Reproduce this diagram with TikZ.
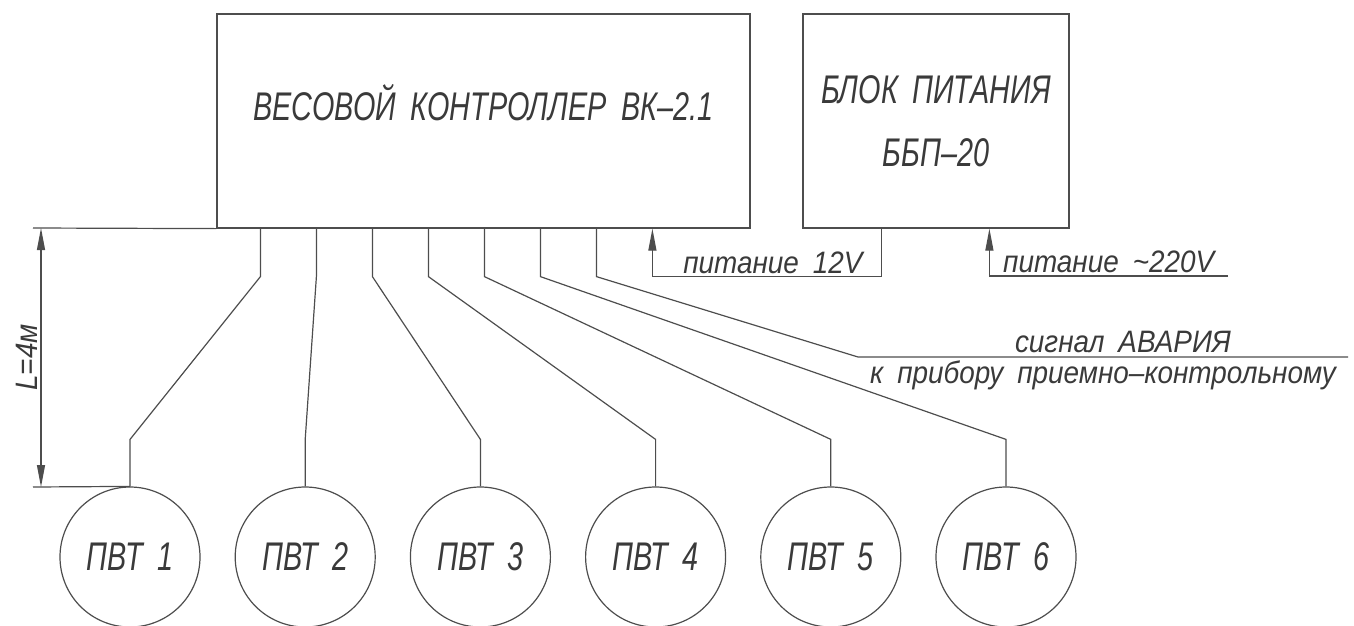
\documentclass[tikz,border=0pt]{standalone}
\usepackage{fontspec}
\usepackage{tikz}
\usetikzlibrary{positioning, arrows.meta, calc}

\newfontfamily\cadcaps{Liberation Sans}[FakeStretch=0.72, WordSpace=1.8]
\newfontfamily\cadlower{Liberation Sans}[FakeStretch=0.9, WordSpace=1.8]
\newcommand{\cadbig}{\cadcaps\itshape\fontsize{40}{48}\selectfont}
\newcommand{\cadsmall}{\cadlower\itshape\fontsize{31}{37}\selectfont}

\definecolor{linegray}{HTML}{4D4D4D}
\definecolor{textgray}{HTML}{3A3A3A}

\begin{document}
\begin{tikzpicture}[
    x=1pt, y=-1pt,
    wire/.style={line width=1.2pt, draw=linegray},
    unit/.style={draw=linegray, line width=1.2pt, minimum width=#1, minimum height=214pt, inner sep=0pt, font=\cadbig, text=textgray},
    sensor/.style={circle, draw=linegray, line width=1.2pt, minimum size=140pt, inner sep=0pt, font=\cadbig, text=textgray},
    lbl/.style={font=\cadsmall, text=textgray, inner sep=3pt},
    tip/.style={-{Triangle[length=22pt, width=8pt]}}
]
    \useasboundingbox (0,0) rectangle (1354,625);

    % Units
    \node[unit=533pt] (ctrl) at (483.5,121) {\raisebox{1pt}[0pt][0pt]{ВЕСОВОЙ КОНТРОЛЛЕР ВК–2.1}};
    \node[unit=266pt, align=center] (psu) at (936,121) {\raisebox{3pt}{БЛОК ПИТАНИЯ}\\[12pt]ББП–20};

    % Sensors
    \foreach \i in {1,...,6}
        \node[sensor] (p\i) at ({130+175.2*(\i-1)}, 557) {ПВТ \i};

    % Sensor cables
    \foreach \i in {1,...,6}
        \draw[wire] ([xshift={44+56*(\i-1)}]ctrl.south west) -- ++(0,48)
            -- ([yshift=47pt]p\i.north) -- (p\i.north);

    % Alarm line
    \coordinate (alarmbend) at (858,357);
    \coordinate (alarm) at (1348,357);
    \draw[wire] ([xshift=380]ctrl.south west) -- ++(0,48) -- (alarmbend) -- (alarm);
    \node[lbl, anchor=south, inner sep=4pt, xshift=20pt] at ($(alarmbend)!0.5!(alarm)$) {сигнал АВАРИЯ};
    \node[lbl, anchor=north, inner sep=4pt] at ($(alarmbend)!0.5!(alarm)$) {к прибору приемно–контрольному};

    % Power 12V
    \coordinate (out12) at ([xshift=79]psu.south west);
    \coordinate (in12) at ([xshift=436]ctrl.south west);
    \draw[wire, tip] (out12) -- ++(0,48) coordinate (bend12) -| (in12);
    \node[lbl, anchor=south, xshift=6pt] at ($(bend12)!0.5!(bend12 -| in12)$) {питание 12V};

    % Power 220V
    \coordinate (in220) at ([xshift=187]psu.south west);
    \coordinate (src220) at (1228,276);
    \draw[wire, tip] (src220) -| (in220);
    \node[lbl, anchor=south] at ($(src220)!0.5!(src220 -| in220)$) {питание \textasciitilde220V};

    % Dimension L
    \coordinate (dimtop) at (33,228);
    \coordinate (dimbot) at (33,487);
    \draw[wire] (dimtop) -- (ctrl.south west);
    \draw[wire] (dimbot) -- (p1.north);
    \draw[wire, {Triangle[length=22pt, width=8pt]}-{Triangle[length=22pt, width=8pt]}]
        ([xshift=8]dimtop) -- ([xshift=8]dimbot)
        node[midway, lbl, rotate=90, anchor=south] {L=4м};

\end{tikzpicture}
\end{document}
